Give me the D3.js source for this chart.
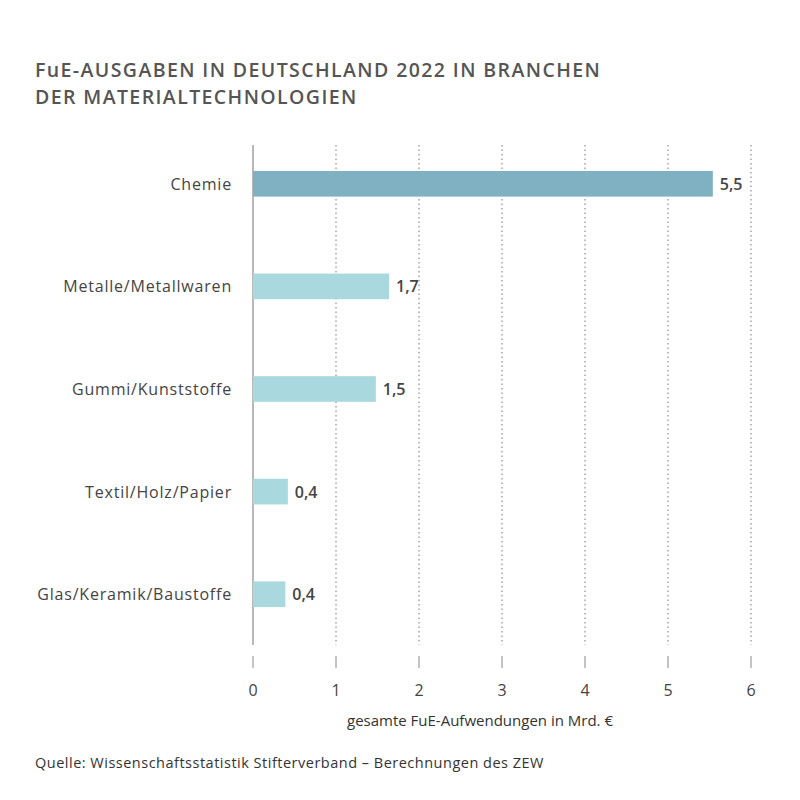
<!DOCTYPE html>
<html><head><meta charset="utf-8">
<script src="https://cdn.jsdelivr.net/npm/d3@7"></script>
<style>body{margin:0;background:#fff}text{font-family:"Open Sans",sans-serif}</style>
</head><body>
<script>
const categories = ['Chemie', 'Metalle/Metallwaren', 'Gummi/Kunststoffe', 'Textil/Holz/Papier', 'Glas/Keramik/Baustoffe'];
const values = [5.54, 1.64, 1.48, 0.42, 0.39];
const valueLabels = ['5,5', '1,7', '1,5', '0,4', '0,4'];
const ticks = [0, 1, 2, 3, 4, 5, 6];

const W = 800, H = 800;
const svg = d3.select('body').append('svg').attr('width', W).attr('height', H);

const x = d3.scaleLinear().domain([0, 6]).range([253, 751]);
const y = d3.scaleBand().domain(categories).range([133, 645]).paddingInner(0.75).paddingOuter(0.37);

// title
svg.append('text').attr('x', 35).attr('y', 77).attr('font-size', 19.5).attr('font-weight', 600)
  .attr('fill', '#555').attr('letter-spacing', 1.4).text('FuE-AUSGABEN IN DEUTSCHLAND 2022 IN BRANCHEN');
svg.append('text').attr('x', 35).attr('y', 104).attr('font-size', 19.5).attr('font-weight', 600)
  .attr('fill', '#555').attr('letter-spacing', 1.4).text('DER MATERIALTECHNOLOGIEN');

// grid
svg.selectAll('line.grid').data(ticks).join('line')
  .attr('x1', d => x(d)).attr('x2', d => x(d))
  .attr('y1', 145).attr('y2', 645)
  .attr('stroke', d => d === 0 ? '#888' : '#777')
  .attr('stroke-width', d => d === 0 ? 1.2 : 1)
  .attr('stroke-dasharray', d => d === 0 ? null : '1.5,3');

// tick marks and labels
svg.selectAll('line.tick').data(ticks).join('line')
  .attr('x1', d => x(d)).attr('x2', d => x(d)).attr('y1', 656).attr('y2', 668)
  .attr('stroke', '#888');
svg.selectAll('text.tick').data(ticks).join('text')
  .attr('x', d => x(d)).attr('y', 696).attr('text-anchor', 'middle')
  .attr('font-size', 16).attr('fill', '#444').text(d => d);

// bars
svg.selectAll('rect.bar').data(categories).join('rect')
  .attr('x', x(0)).attr('y', d => y(d))
  .attr('width', (d, i) => x(values[i]) - x(0)).attr('height', y.bandwidth())
  .attr('fill', (d, i) => i === 0 ? '#7fb1c3' : '#a9d9df');

svg.selectAll('text.val').data(categories).join('text')
  .attr('x', (d, i) => x(values[i]) + 7).attr('y', d => y(d) + y.bandwidth() / 2 + 6)
  .attr('font-size', 16).attr('font-weight', 600).attr('fill', '#444')
  .text((d, i) => valueLabels[i]);

svg.selectAll('text.cat').data(categories).join('text')
  .attr('x', 232).attr('y', d => y(d) + y.bandwidth() / 2 + 6)
  .attr('text-anchor', 'end').attr('font-size', 16).attr('letter-spacing', 0.8)
  .attr('fill', '#444').text(d => d);

svg.append('text').attr('x', 480).attr('y', 726).attr('text-anchor', 'middle')
  .attr('font-size', 15).attr('fill', '#333').text('gesamte FuE-Aufwendungen in Mrd. €');

svg.append('text').attr('x', 35).attr('y', 768).attr('font-size', 14.5).attr('letter-spacing', 0.5)
  .attr('fill', '#333').text('Quelle: Wissenschaftsstatistik Stifterverband  – Berechnungen des ZEW');
</script>
</body></html>
